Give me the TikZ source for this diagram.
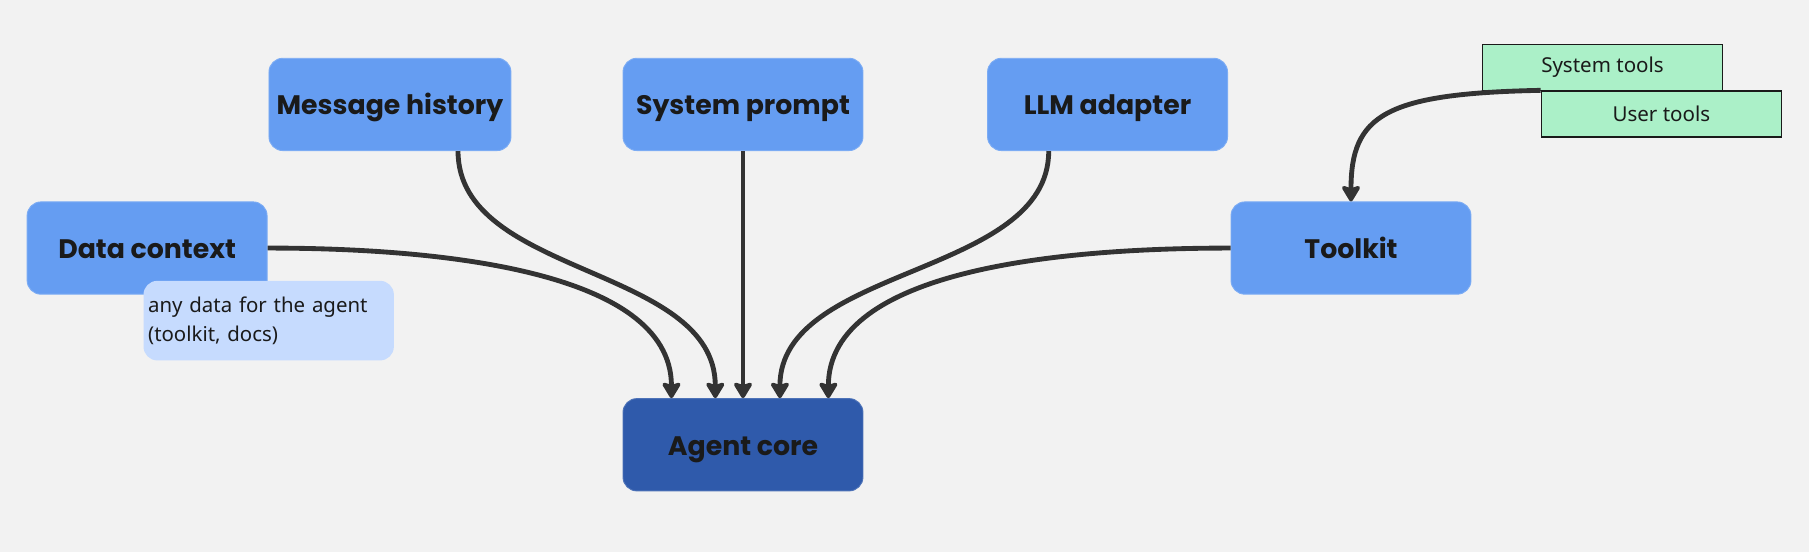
\documentclass[tikz,border=0pt]{standalone}
\usepackage{fontspec}
\setmainfont{Noto Sans}
\newfontfamily\headfont{Poppins}
\usepackage{tikz}
\usetikzlibrary{arrows.meta,positioning}
\definecolor{bggray}{HTML}{F2F2F2}
\definecolor{partblue}{HTML}{659DF2}
\definecolor{coreblue}{HTML}{2F5AAB}
\definecolor{noteblue}{HTML}{C6DBFE}
\definecolor{toolgreen}{HTML}{ABF0C8}
\definecolor{edgegray}{HTML}{333333}
\definecolor{inkblack}{HTML}{1A1A1A}
\tikzstyle{line} = [draw, edgegray, line width=2.1pt, -{Stealth[length=8pt,width=9.5pt,inset=1.5pt,round]}]
\tikzstyle{part} = [rectangle, draw=partblue!85!white, fill=partblue, rounded corners=6pt, minimum width=104pt, minimum height=40pt, text height=11pt, text depth=2pt, text centered, text=inkblack, font=\headfont\bfseries\fontsize{11.6}{13}\selectfont]
\tikzstyle{core} = [part, draw=coreblue!85!white, fill=coreblue]
\tikzstyle{note} = [rectangle, fill=noteblue, rounded corners=6pt, minimum width=108.5pt, minimum height=34.5pt, text width=104.5pt, inner xsep=2pt, inner ysep=3pt, align=left, text=inkblack, font=\fontsize{8.85}{12.3}\selectfont]
\tikzstyle{tool} = [rectangle, draw=inkblack, line width=0.7pt, fill=toolgreen, minimum width=104pt, minimum height=20pt, text centered, text=inkblack, font=\fontsize{8.9}{10}\selectfont]

\begin{document}
\begin{tikzpicture}[x=0.5pt, y=-0.5pt]
		\useasboundingbox[fill=bggray] (0,0) rectangle (1568,478.4);
		
		\node[part] (msg_hist) at (338,90.5) {Message history};
		\node[part] (sys_prompt) at (644,90.5) {System prompt};
		\node[part] (llm_adapt) at (960,90.5) {LLM adapter};
		
		\node[part] (data_ctx) at (127.5,215) {Data context};
		\node[part] (toolkit) at (1171,215) {Toolkit};
		
		\node[core] (agent_core) at (644,385.5) {Agent core};
		
		\node[note, anchor=north west] (data_note) at (124,243) {any data for the agent\\(toolkit, docs)};
		
		\node[tool] (sys_tools) at (1389,58.5) {System tools};
		\node[tool] (user_tools) at (1440,99) {User tools};
		
		
		\path [line] (data_ctx.east) .. controls (370,215) and (582,232) .. (agent_core.north-|582,0);
		\path [line] (msg_hist.south-|397,0) .. controls (397,240) and (620,230) .. (agent_core.north-|620,0);
		\path [line] (sys_prompt.south) to (agent_core.north);
		\path [line] (llm_adapt.south-|909,0) .. controls (909,240) and (676,230) .. (agent_core.north-|676,0);
		\path [line] (toolkit.west) .. controls (925,215) and (718,232) .. (agent_core.north-|718,0);
		
		\path [line] (user_tools.north west) .. controls (1200,81) and (1171,100) .. (toolkit.north);
		\end{tikzpicture}
\end{document}
